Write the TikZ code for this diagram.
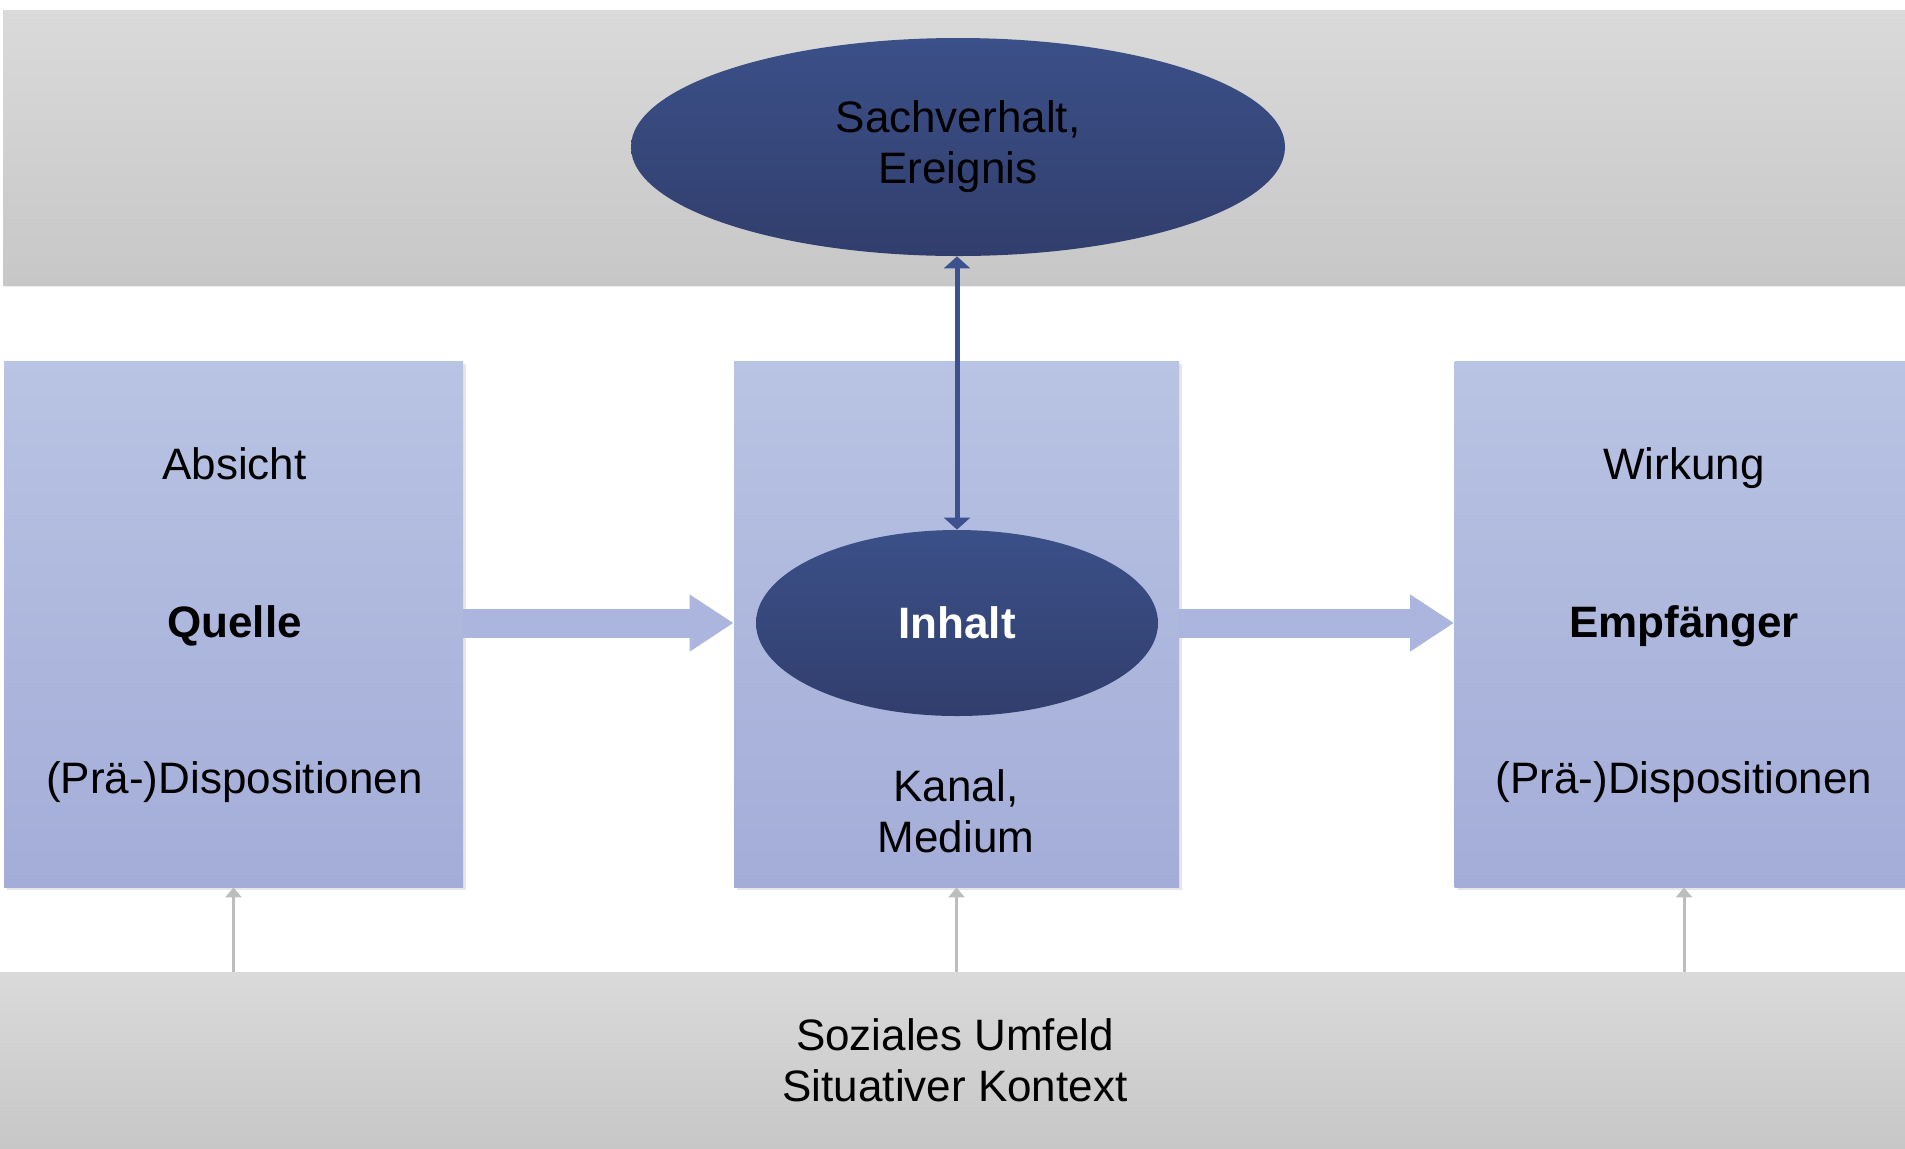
\documentclass[tikz,border=0pt]{standalone}
\usepackage{fontspec}
\setmainfont{Liberation Sans}
\usetikzlibrary{arrows.meta, shapes.geometric, shadows}
\definecolor{bandtop}{HTML}{DADADA}
\definecolor{bandbottom}{HTML}{C7C7C7}
\definecolor{boxtop}{HTML}{B9C3E3}
\definecolor{boxbottom}{HTML}{A3ADD8}
\definecolor{ovaltop}{HTML}{3B5088}
\definecolor{ovalbottom}{HTML}{313E6D}
\definecolor{flow}{HTML}{ABB5DD}
\definecolor{link}{HTML}{3C5290}
\definecolor{grau}{HTML}{BDBDBD}

\begin{document}
\begin{tikzpicture}[x = 0.5pt, y = -0.5pt]
\tikzstyle{BandStyle}=[shape = rectangle,
                       top color = bandtop, bottom color = bandbottom,
                       inner sep = 0pt,
                       font = \fontsize{22}{25.5}\selectfont, align = center]
\tikzstyle{BoxStyle}=[shape = rectangle,
                      top color = boxtop, bottom color = boxbottom,
                      inner sep = 0pt,
                      drop shadow = {shadow xshift = 1.5pt, shadow yshift = -1.5pt, opacity = 0.2}]
\tikzstyle{OvalStyle}=[shape = ellipse,
                       top color = ovaltop, bottom color = ovalbottom,
                       inner sep = 0pt,
                       font = \fontsize{22}{25.5}\selectfont, align = center]
\tikzstyle{TextStyle}=[inner sep = 0pt, font = \fontsize{22}{25.5}\selectfont, align = center]
\tikzstyle{flowarrow}=[draw = flow, line width = 14.5pt, -{Triangle[length = 22pt, width = 27pt]}]
\tikzstyle{linkarrow}=[draw = link, line width = 2.5pt,
                       {Triangle[length = 6pt, width = 13pt]}-{Triangle[length = 6pt, width = 13pt]}]
\tikzstyle{umfeldarrow}=[draw = grau, line width = 1.5pt, -{Triangle[length = 5pt, width = 8pt]}]
\useasboundingbox (0,0) rectangle (1905,1148);
% bands
\node[BandStyle, minimum width = 953.5pt, minimum height = 137.5pt,
      drop shadow = {shadow xshift = 1pt, shadow yshift = -1pt, opacity = 0.15}] (sphere) at (956.5, 147.5) {};
\node[BandStyle, minimum width = 955pt, minimum height = 88pt] (umfeld) at (955, 1060) {Soziales Umfeld\\Situativer Kontext};
% boxes
\node[BoxStyle, minimum width = 229.5pt, minimum height = 263pt] (quelle) at (233.5, 624) {};
\node[BoxStyle, minimum width = 222.5pt, minimum height = 263pt] (kanal) at (956.5, 624) {};
\node[BoxStyle, minimum width = 229.5pt, minimum height = 263pt] (empf) at (1684, 624) {};
\node[TextStyle] (absicht) at (234.5, 464) {Absicht};
\node[TextStyle, font = \fontsize{22}{25.5}\selectfont\bfseries] (quelletext) at (234.5, 626) {Quelle};
\node[TextStyle] (dispo1) at (234.5, 782) {(Prä-)Dispositionen};
\node[TextStyle] (medium) at (956, 811) {Kanal,\\Medium};
\node[TextStyle] (wirkung) at (1684, 468) {Wirkung};
\node[TextStyle, font = \fontsize{22}{25.5}\selectfont\bfseries] (empftext) at (1684, 626) {Empfänger};
\node[TextStyle] (dispo2) at (1684, 782) {(Prä-)Dispositionen};
% ovals
\node[OvalStyle, minimum width = 327pt, minimum height = 109pt] (sachverhalt) at (958, 147) {Sachverhalt,\\Ereignis};
\node[OvalStyle, minimum width = 201pt, minimum height = 93pt, text = white,
      font = \fontsize{22}{25.5}\selectfont\bfseries] (inhalt) at (957, 623) {Inhalt};
% arrows
\draw[flowarrow] (quelle.east |- inhalt) -- (kanal.west |- inhalt);
\draw[flowarrow] (kanal.east |- inhalt) -- (empf.west |- inhalt);
\draw[linkarrow] (inhalt.north |- sachverhalt.south) -- (inhalt.north);
\draw[umfeldarrow] (quelle.south |- umfeld.north) -- (quelle.south);
\draw[umfeldarrow] (kanal.south |- umfeld.north) -- (kanal.south);
\draw[umfeldarrow] (empf.south |- umfeld.north) -- (empf.south);
\end{tikzpicture}
\end{document}
